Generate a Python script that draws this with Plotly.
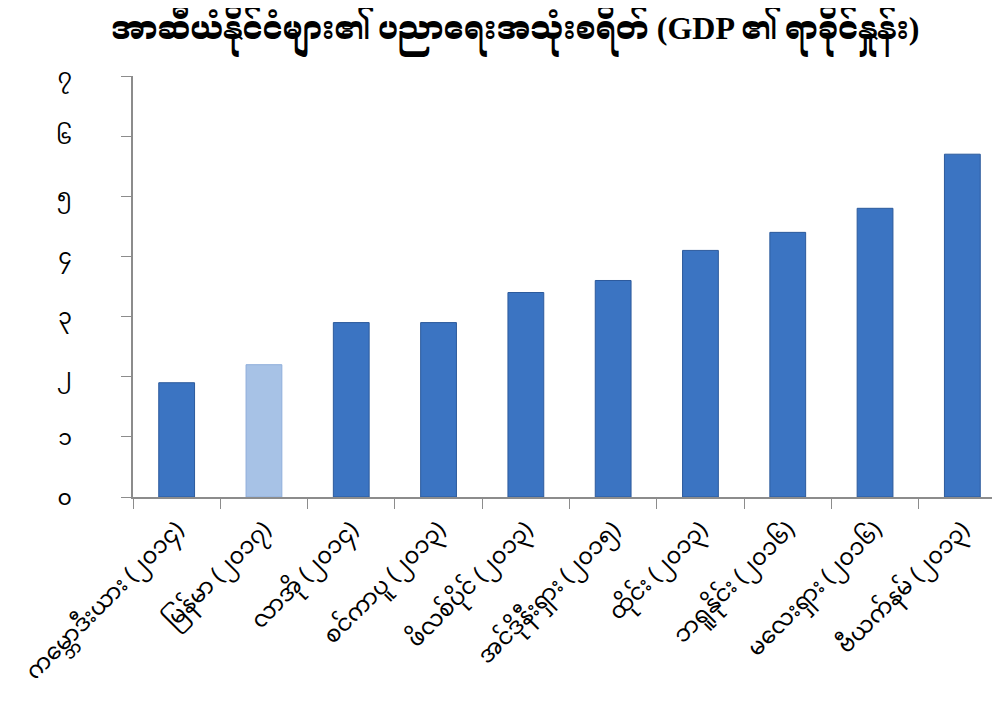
import plotly.graph_objects as go

# ASEAN education spending, % of GDP
countries = [
    "ကမ္ဘောဒီးယား (၂၀၁၄)",
    "မြန်မာ (၂၀၁၇)",
    "လာအို (၂၀၁၄)",
    "စင်ကာပူ (၂၀၁၃)",
    "ဖိလစ်ပိုင် (၂၀၁၃)",
    "အင်ဒိုနီးရှား (၂၀၁၅)",
    "ထိုင်း (၂၀၁၃)",
    "ဘရူနိုင်း (၂၀၁၆)",
    "မလေးရှား (၂၀၁၆)",
    "ဗီယက်နမ် (၂၀၁၃)",
]
values = [1.9, 2.2, 2.9, 2.9, 3.4, 3.6, 4.1, 4.4, 4.8, 5.7]
y_ticks = [0, 1, 2, 3, 4, 5, 6, 7]
y_tick_text = ["၀", "၁", "၂", "၃", "၄", "၅", "၆", "၇"]

title = "အာဆီယံနိုင်ငံများ၏ ပညာရေးအသုံးစရိတ် (GDP ၏ ရာခိုင်နှုန်း)"

# highlight Myanmar with a lighter blue
colors = ["#a7c2e6" if c.startswith("မြန်မာ") else "#3b74c2" for c in countries]
lines = ["#8eaedb" if c.startswith("မြန်မာ") else "#2c5a9c" for c in countries]

fig = go.Figure(go.Bar(
    x=countries, y=values,
    marker=dict(color=colors, line=dict(color=lines, width=1)),
))

font = "Noto Sans Myanmar, Myanmar Text, Padauk, Noto Sans, sans-serif"
title_font = "Liberation Serif, Noto Serif Myanmar, Noto Sans Myanmar, serif"

# page body has an 8px offset, margins account for it
fig.update_layout(
    width=1000, height=704,
    paper_bgcolor="white", plot_bgcolor="white",
    margin=dict(l=125, r=2, t=68, b=215),
    bargap=0.59,
    showlegend=False,
    font=dict(family=font, color="black"),
    title=dict(text="<b>" + title + "</b>", x=0.507, xanchor="center",
               y=0.972, yanchor="middle", font=dict(size=32, family=title_font)),
)
fig.update_xaxes(
    showline=True, linecolor="#8c8c8c", linewidth=1.5,
    ticks="outside", tickson="boundaries", ticklen=10, tickcolor="#8c8c8c",
    tickangle=-45, tickfont=dict(size=23), showgrid=False, automargin=False,
    ticklabelstandoff=8,
)
fig.update_yaxes(
    range=[0, 7], tickvals=y_ticks, ticktext=y_tick_text,
    showline=True, linecolor="#8c8c8c", linewidth=1.5,
    ticks="outside", ticklen=10, tickcolor="#8c8c8c",
    ticklabelstandoff=45, tickfont=dict(size=22), showgrid=False,
    zeroline=False, automargin=False,
)

fig.write_html("out.html")
